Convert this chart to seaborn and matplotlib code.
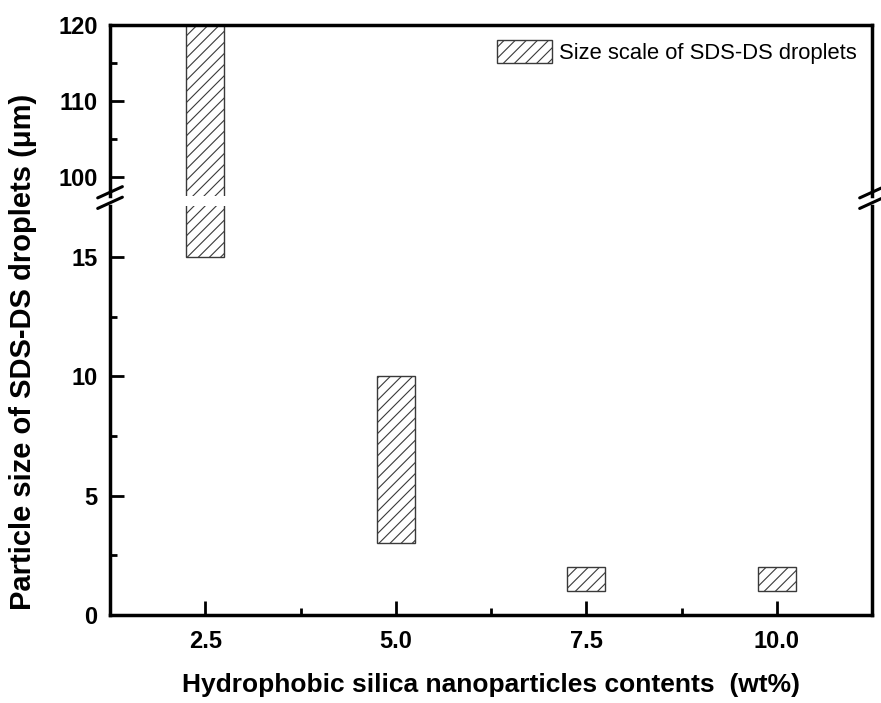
import matplotlib
matplotlib.use("Agg")
import matplotlib.pyplot as plt
from matplotlib.ticker import MultipleLocator
import seaborn as sns

sns.set_style("ticks")
plt.rcParams["font.family"] = ["Liberation Sans", "DejaVu Sans"]
plt.rcParams["hatch.linewidth"] = 0.8
for key in ("text.color", "axes.labelcolor", "xtick.color", "ytick.color"):
    plt.rcParams[key] = "black"

# data
contents = [2.5, 5.0, 7.5, 10.0]          # wt%
size_low = [15, 3, 1, 1]                  # µm, lower end of size range
size_high = [120, 10, 2, 2]               # µm, upper end of size range
legend_label = "Size scale of SDS-DS droplets"
x_label = "Hydrophobic silica nanoparticles contents  (wt%)"
y_label = "Particle size of SDS-DS droplets (μm)"

fig = plt.figure(figsize=(8.81, 7.03), dpi=100)
left, right = 0.1249, 0.9898
ax_top = fig.add_axes([left, 0.721, right - left, 0.9644 - 0.721])
ax_low = fig.add_axes([left, 0.1252, right - left, 0.707 - 0.1252])

heights = [h - l for l, h in zip(size_low, size_high)]
for ax in (ax_top, ax_low):
    ax.bar(contents, heights, bottom=size_low, width=0.5, color="white",
           edgecolor="#3a3a3a", linewidth=1.0, hatch="///",
           label=legend_label)
    ax.set_xlim(1.25, 11.25)
    for side in ("left", "right", "top", "bottom"):
        ax.spines[side].set_linewidth(2.5)
        ax.spines[side].set_color("black")
    ax.tick_params(which="major", direction="in", length=10, width=2,
                   pad=9)
    ax.tick_params(which="minor", direction="in", length=5, width=2)
    ax.tick_params(axis="y", which="both", right=False)

ax_top.set_ylim(97.5, 120)
ax_low.set_ylim(0, 17.15)

ax_top.spines["bottom"].set_visible(False)
ax_low.spines["top"].set_visible(False)
ax_top.tick_params(axis="x", which="both", bottom=False, top=False,
                   labelbottom=False)
ax_low.tick_params(axis="x", which="both", top=False)

ax_top.yaxis.set_major_locator(MultipleLocator(10))
ax_top.yaxis.set_minor_locator(MultipleLocator(5))
ax_low.yaxis.set_major_locator(MultipleLocator(5))
ax_low.yaxis.set_minor_locator(MultipleLocator(2.5))
ax_low.set_xticks(contents)
ax_low.set_xticklabels([f"{c:.1f}" for c in contents])
ax_low.xaxis.set_minor_locator(MultipleLocator(1.25))
ax_low.tick_params(axis="x", which="major", pad=11)

for ax in (ax_top, ax_low):
    for lab in ax.get_xticklabels() + ax.get_yticklabels():
        lab.set_fontweight("bold")
        lab.set_fontsize(17)

ax_low.set_xlabel(x_label, fontsize=19, fontweight="bold", labelpad=14)
fig.text(0.026, 0.499, y_label, rotation=90, va="center", ha="center",
         fontsize=21, fontweight="bold")

ax_top.legend(loc="upper right", frameon=False, fontsize=15.8,
              handlelength=2.5, handleheight=1.2, borderaxespad=0.3,
              handletextpad=0.3)

# axis break marks on both spines
for xf in (left, right):
    for yf in (0.7115, 0.7265):
        fig.lines.append(plt.Line2D([xf - 0.014, xf + 0.014],
                                    [yf - 0.008, yf + 0.008],
                                    transform=fig.transFigure,
                                    color="black", lw=2.2))

fig.savefig("out.png", dpi=100)
